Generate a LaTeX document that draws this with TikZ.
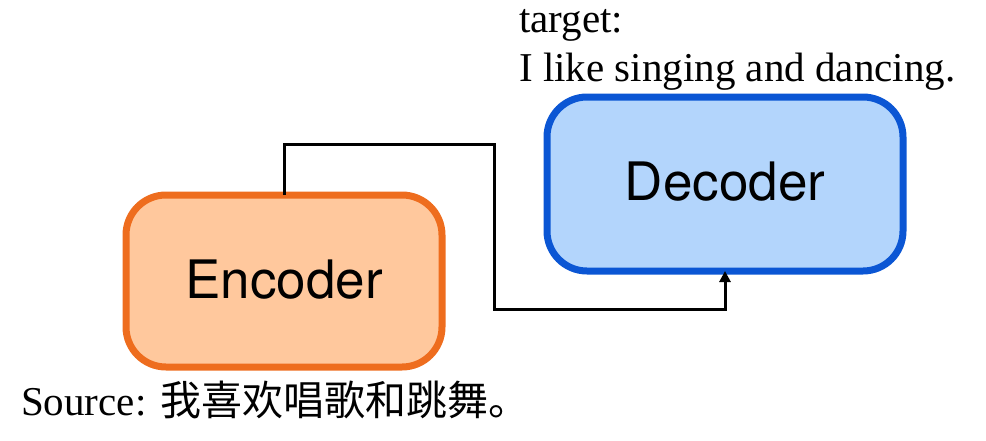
\documentclass[tikz,border=0pt]{standalone}
\usepackage{fontspec}
\setmainfont{Liberation Serif}
\setsansfont{TeX Gyre Heros}
\newfontfamily\cjk{Noto Sans CJK SC}
\usetikzlibrary{arrows.meta}
\definecolor{encborder}{HTML}{EE6D1E}
\definecolor{encfill}{HTML}{FFC89D}
\definecolor{decborder}{HTML}{0B56D4}
\definecolor{decfill}{HTML}{B3D5FC}
\tikzset{
  box/.style={rounded corners=40pt, line width=7pt, outer sep=0pt, inner sep=0pt,
    font=\sffamily\fontsize{53}{60}\selectfont},
  conn/.style={line width=3pt, -{Triangle[width=11pt,length=11pt]}},
  serif/.style={inner sep=0pt, anchor=base west, font=\fontsize{41}{49}\selectfont}
}
\begin{document}
\begin{tikzpicture}[x=1pt,y=-1pt]
\useasboundingbox (0,0) rectangle (986,440);
\node[box, draw=encborder, fill=encfill, minimum width=316pt, minimum height=172pt]
  (enc) at (284,281) {\raisebox{4pt}{Encoder}};
\node[box, draw=decborder, fill=decfill, minimum width=356pt, minimum height=174pt]
  (dec) at (725,184) {\raisebox{6pt}{Decoder}};
\coordinate (c1) at (494,144);
\coordinate (c2) at (494,309);
\draw[conn] (enc.north) |- (c1) -- (c2) -| (dec.south);
\node[serif] (t1) at (519,32) {target:};
\node[serif] (t2) at (519,81) {I like singing and dancing.};
\node[serif] (src) at (21,415) {Source: {\cjk\fontsize{41}{49}\selectfont 我喜欢唱歌和跳舞。}};
\end{tikzpicture}
\end{document}
